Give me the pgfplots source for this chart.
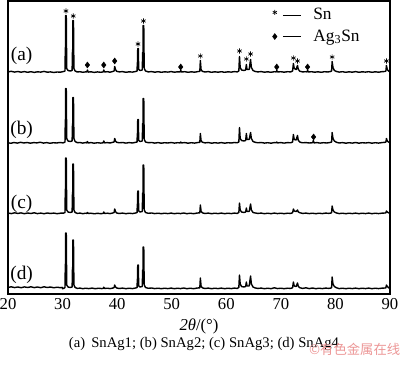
\documentclass[border=0pt]{standalone}
\usepackage{pgfplots}
\pgfplotsset{compat=1.18}
\usepackage{pgfplotstable}
\usepackage{fontspec}
\setmainfont{Liberation Serif}
\newfontfamily\cjk{Noto Sans CJK SC}
\definecolor{wm}{RGB}{236,150,150}

\pgfplotstableread{
x y
20.0 0.6
20.6 1.2
21.2 0.4
21.8 1.0
22.4 0.3
23.0 0.9
23.6 0.2
24.2 0.8
24.8 0.1
25.4 0.7
26.0 0.4
26.6 1.1
27.2 0.3
27.8 0.6
28.4 0.0
29.0 0.5
29.6 0.3
30.2 1.0
30.45 1.5
30.50 25
30.55 25
30.57 57
30.68 57
30.76 4
31.0 2.0
31.4 1.5
31.75 2.0
31.82 23
31.87 23
31.89 52
32.00 52
32.08 4
32.3 1.5
32.7 0.5
33.2 0.8
33.7 0.2
34.2 0.6
34.45 0.5
34.55 2.5
34.7 0.4
35.2 0.7
35.8 0.1
36.4 0.6
37.0 0.2
37.45 0.6
37.55 2.5
37.7 0.5
38.2 0.8
38.7 0.3
39.2 1.0
39.45 1.5
39.55 6
39.7 3
39.9 1.2
40.4 0.6
41.0 0.9
41.6 0.2
42.2 0.7
42.8 0.4
43.4 1.0
43.65 1.5
43.70 10
43.75 10
43.77 24
43.88 24
43.95 3
44.2 2
44.6 2.5
44.68 20
44.73 20
44.75 47
44.88 47
44.96 4
45.2 1.5
45.7 0.6
46.3 0.9
46.9 0.3
47.5 0.8
48.1 0.2
48.7 0.7
49.3 0.4
49.9 0.9
50.5 0.3
51.1 0.7
51.55 0.5
51.65 2
51.8 0.5
52.4 0.8
53.0 0.2
53.6 0.7
54.2 0.3
54.8 0.9
55.15 1.2
55.25 12
55.38 3
55.6 1.2
56.1 0.5
56.7 0.9
57.3 0.2
57.9 0.7
58.5 0.3
59.1 0.8
59.7 0.2
60.3 0.7
60.9 0.4
61.5 0.9
62.0 0.6
62.3 1.5
62.42 16
62.55 5
62.8 2.5
63.2 2
63.55 2.5
63.68 8
63.8 3
64.2 3
64.45 13
64.6 5
64.9 2
65.3 1
65.8 0.6
66.4 0.9
67.0 0.3
67.6 0.7
68.2 0.2
68.8 0.8
69.15 0.6
69.25 2
69.4 0.5
70.0 0.8
70.6 0.3
71.2 0.8
71.8 0.6
72.15 1.5
72.3 9
72.45 4
72.8 3
73.05 7
73.2 3
73.5 1.2
74.0 0.6
74.6 0.8
74.8 0.6
74.9 2
75.05 0.5
75.6 0.8
76.2 0.3
76.8 0.7
77.4 0.2
78.0 0.8
78.6 0.5
79.1 1.0
79.3 1.5
79.4 11
79.55 5
79.8 2
80.2 1.0
80.7 0.4
81.3 0.8
81.9 0.2
82.5 0.7
83.1 0.3
83.7 0.9
84.3 0.2
84.9 0.7
85.5 0.4
86.1 0.8
86.7 0.2
87.3 0.7
87.9 0.3
88.5 0.8
89.05 1.0
89.25 1.5
89.35 7
89.5 3
89.8 1.2
90.0 0.8
}\traceA

\pgfplotstableread{
x y
20.0 0.8
20.5 0.2
21.1 1.0
21.7 0.4
22.3 1.2
22.9 0.5
23.5 1.0
24.1 0.3
24.7 0.9
25.3 0.6
25.9 1.3
26.5 0.4
27.1 0.9
27.7 0.2
28.3 0.8
28.9 0.5
29.5 1.0
30.1 0.6
30.45 1.5
30.50 24
30.55 24
30.57 55
30.68 55
30.76 5
31.0 2.5
31.4 2.0
31.75 2.5
31.82 20
31.87 20
31.89 46
32.00 46
32.08 5
32.3 2
32.7 0.8
33.2 1.0
33.7 0.4
34.2 0.9
34.45 0.6
34.55 2
34.7 0.5
35.2 0.9
35.8 0.3
36.4 0.8
37.0 0.4
37.45 0.7
37.55 2.5
37.7 0.6
38.2 0.9
38.7 0.5
39.2 1.2
39.45 1.5
39.55 5
39.7 2.5
39.9 1.2
40.4 0.7
41.0 1.0
41.6 0.4
42.2 0.9
42.8 0.5
43.4 1.2
43.65 1.5
43.70 10
43.75 10
43.77 24
43.88 24
43.95 3
44.2 2
44.6 2.5
44.68 20
44.73 20
44.75 45
44.88 45
44.96 4
45.2 1.5
45.7 0.8
46.3 1.0
46.9 0.4
47.5 0.9
48.1 0.3
48.7 0.8
49.3 0.5
49.9 1.0
50.5 0.4
51.1 0.8
51.55 0.6
51.65 1.5
51.8 0.6
52.4 0.9
53.0 0.3
53.6 0.8
54.2 0.4
54.8 1.0
55.15 1.2
55.25 10
55.38 3
55.6 1.3
56.1 0.6
56.7 1.0
57.3 0.3
57.9 0.8
58.5 0.4
59.1 0.9
59.7 0.3
60.3 0.8
60.9 0.5
61.5 1.0
62.0 0.7
62.3 1.5
62.42 16
62.55 5
62.8 3
63.2 2.5
63.55 3
63.68 10
63.8 4
64.2 4
64.45 11
64.6 5
64.9 2
65.3 1.2
65.8 0.7
66.4 1.0
67.0 0.4
67.6 0.8
68.2 0.3
68.8 0.9
69.15 0.7
69.25 1.5
69.4 0.6
70.0 0.9
70.6 0.4
71.2 0.9
71.8 0.7
72.15 1.5
72.3 9
72.45 4
72.8 3.5
73.05 8
73.2 3
73.5 1.3
74.0 0.7
74.6 0.9
75.2 0.5
75.85 0.8
75.95 3
76.1 0.6
76.6 0.9
77.2 0.4
77.8 0.8
78.4 0.5
79.0 1.0
79.3 1.5
79.4 11
79.55 5
79.8 2.5
80.2 1.2
80.7 0.5
81.3 0.9
81.9 0.3
82.5 0.8
83.1 0.4
83.7 1.0
84.3 0.3
84.9 0.8
85.5 0.5
86.1 0.9
86.7 0.3
87.3 0.8
87.9 0.4
88.5 0.9
89.1 1.2
89.25 1.5
89.35 5
89.5 2.5
89.8 1.2
90.0 0.8
}\traceB

\pgfplotstableread{
x y
20.0 1.0
20.6 0.4
21.2 1.2
21.8 0.6
22.4 1.1
23.0 0.3
23.6 1.0
24.2 0.5
24.8 1.2
25.4 0.4
26.0 0.9
26.6 0.3
27.2 1.0
27.8 0.5
28.4 0.9
29.0 0.3
29.6 0.8
30.2 0.9
30.45 1.5
30.50 25
30.55 25
30.57 56
30.68 56
30.76 4
31.0 2.0
31.4 1.5
31.75 2.0
31.82 22
31.87 22
31.89 50
32.00 50
32.08 4
32.3 1.5
32.7 0.6
33.2 0.9
33.7 0.3
34.2 0.8
34.45 0.6
34.55 1.5
34.7 0.5
35.2 0.8
35.8 0.2
36.4 0.7
37.0 0.3
37.45 0.6
37.55 2
37.7 0.5
38.2 0.8
38.7 0.4
39.2 1.0
39.45 1.5
39.55 5
39.7 2.5
39.9 1.0
40.4 0.5
41.0 0.9
41.6 0.3
42.2 0.8
42.8 0.4
43.4 1.0
43.65 1.5
43.70 10
43.75 10
43.77 23
43.88 23
43.95 3
44.2 2
44.6 2.5
44.68 21
44.73 21
44.75 49
44.88 49
44.96 4
45.2 1.5
45.7 0.7
46.3 1.0
46.9 0.4
47.5 0.8
48.1 0.3
48.7 0.8
49.3 0.4
49.9 0.9
50.5 0.3
51.1 0.8
51.6 0.4
52.2 1.0
52.8 0.3
53.4 0.8
54.0 0.3
54.6 0.9
55.15 1.2
55.25 9
55.38 3
55.6 1.2
56.1 0.5
56.7 0.9
57.3 0.3
57.9 0.8
58.5 0.4
59.1 0.9
59.7 0.3
60.3 0.8
60.9 0.4
61.5 0.9
62.0 0.6
62.3 1.5
62.42 11
62.55 4
62.8 2
63.2 1.5
63.55 2
63.68 6
63.8 2.5
64.2 2.5
64.45 10
64.6 4
64.9 1.5
65.3 1
65.8 0.6
66.4 0.9
67.0 0.3
67.6 0.8
68.2 0.3
68.8 0.9
69.4 0.4
70.0 0.8
70.6 0.3
71.2 0.8
71.8 0.6
72.15 1.2
72.3 5
72.45 3
72.8 2.5
73.05 4
73.2 2
73.5 1.2
74.0 0.6
74.6 0.9
75.2 0.4
75.8 0.8
76.4 0.3
77.0 0.8
77.6 0.4
78.2 0.9
78.8 0.6
79.2 1.0
79.3 1.5
79.4 8
79.55 4
79.8 2
80.2 1.0
80.7 0.4
81.3 0.8
81.9 0.3
82.5 0.8
83.1 0.4
83.7 0.9
84.3 0.3
84.9 0.8
85.5 0.4
86.1 0.9
86.7 0.3
87.3 0.8
87.9 0.4
88.5 0.8
89.1 1.0
89.25 1.2
89.35 3
89.5 2
89.8 1.0
90.0 0.8
}\traceC

\pgfplotstableread{
x y
20.0 1.5
20.6 2.2
21.2 1.4
21.8 2.0
22.4 1.3
23.0 2.1
23.6 1.5
24.2 2.2
24.8 1.4
25.4 2.0
26.0 1.3
26.6 2.2
27.2 1.5
27.8 2.0
28.4 1.2
29.0 1.8
29.6 1.3
29.95 1.6
30.0 0.3
30.2 0.6
30.45 1.5
30.50 25
30.55 25
30.57 56
30.68 56
30.76 4
31.0 2.0
31.4 1.5
31.75 2.0
31.82 22
31.87 22
31.89 49
32.00 49
32.08 4
32.3 1.5
32.7 0.6
33.2 0.9
33.7 0.3
34.2 0.8
34.8 0.4
35.4 0.9
36.0 0.3
36.6 0.8
37.2 0.4
37.45 0.6
37.55 1.8
37.7 0.5
38.2 0.8
38.7 0.4
39.2 0.9
39.45 1.5
39.55 4
39.7 2
39.9 1.0
40.4 0.5
41.0 0.9
41.6 0.3
42.2 0.8
42.8 0.4
43.4 1.0
43.65 1.5
43.70 10
43.75 10
43.77 24
43.88 24
43.95 3
44.2 2
44.6 2.5
44.68 19
44.73 19
44.75 42
44.88 42
44.96 4
45.2 1.5
45.7 0.7
46.3 1.0
46.9 0.4
47.5 0.8
48.1 0.3
48.7 0.8
49.3 0.4
49.9 0.9
50.5 0.3
51.1 0.8
51.6 0.4
52.2 1.0
52.8 0.3
53.4 0.8
54.0 0.3
54.6 0.9
55.15 1.2
55.25 11
55.38 3
55.6 1.2
56.1 0.5
56.7 0.9
57.3 0.3
57.9 0.8
58.5 0.4
59.1 0.9
59.7 0.3
60.3 0.8
60.9 0.4
61.5 0.9
62.0 0.6
62.3 1.5
62.42 14
62.55 5
62.8 2.5
63.2 2
63.55 2.5
63.68 7
63.8 3
64.2 3
64.45 13
64.6 5
64.9 2
65.3 1
65.8 0.6
66.4 0.9
67.0 0.3
67.6 0.8
68.2 0.3
68.8 1.2
69.4 0.4
70.0 0.8
70.6 0.3
71.2 0.8
71.8 0.6
72.15 1.2
72.3 7
72.45 3
72.8 2.5
73.05 6
73.2 2.5
73.5 1.2
74.0 0.6
74.6 1.2
75.2 0.4
75.8 1.0
76.4 0.3
77.0 0.8
77.6 0.4
78.2 0.9
78.8 0.6
79.2 1.0
79.3 1.5
79.4 12
79.55 5
79.8 2.5
80.2 1.2
80.7 0.4
81.3 0.8
81.9 0.3
82.5 0.8
83.1 0.4
83.7 0.9
84.3 0.3
84.9 0.8
85.5 0.4
86.1 0.9
86.7 0.3
87.3 0.8
87.9 0.4
88.5 0.8
89.1 1.0
89.25 1.2
89.35 4
89.5 2.5
89.8 1.0
90.0 0.8
}\traceD

\begin{document}
\begin{tikzpicture}
\begin{axis}[
  at={(0,0)}, anchor=south west,
  scale only axis, width=286.5pt, height=219.75pt,
  xmin=20, xmax=90, ymin=0, ymax=293,
  xtick={20,30,...,90}, ytick=\empty,
  major tick length=0pt,
  axis line style={line width=1.1pt},
  tick label style={font=\fontsize{12.5}{14}\selectfont},
  /pgf/number format/assume math mode=true,
  xlabel={{\itshape 2θ}/(°)},
  xlabel style={font=\fontsize{12.5}{14}\selectfont},
  legend style={at={(rel axis cs:0.692,0.985)}, anchor=north west, draw=none, fill=none,
    font=\fontsize{13}{15}\selectfont, inner sep=0pt, row sep=2pt, column sep=7pt},
  legend cell align=left,
]
\addlegendimage{legend image code/.code={
  \draw[black, mark=asterisk, mark size=1.8pt, mark options={line width=0.5pt}] plot coordinates {(0pt,2pt)};
  \draw[black, line width=0.8pt] (6pt,0pt) -- (19.5pt,0pt);}}
\addlegendentry{Sn}
\addlegendimage{legend image code/.code={
  \draw[black, mark=diamond*, mark size=2.2pt] plot coordinates {(0pt,0pt)};
  \draw[black, line width=0.8pt] (6pt,0pt) -- (19.5pt,0pt);}}
\addlegendentry{Ag\textsubscript{3}Sn}

\addplot[black, line width=1.05pt, line join=round, forget plot] table[x=x, y expr=\thisrow{y}+221.5] {\traceA};
\addplot[black, line width=1.05pt, line join=round, forget plot] table[x=x, y expr=\thisrow{y}+150.5] {\traceB};
\addplot[black, line width=1.05pt, line join=round, forget plot] table[x=x, y expr=\thisrow{y}+80] {\traceC};
\addplot[black, line width=1.05pt, line join=round, forget plot] table[x=x, y expr=\thisrow{y}+5] {\traceD};

\addplot[only marks, black, mark=asterisk, mark size=1.9pt, mark options={line width=0.5pt}, forget plot] coordinates {
(30.62,283) (31.95,278) (43.82,250) (44.82,273) (55.25,238) (62.42,243) (63.68,235)
(64.45,240) (72.3,236) (73.05,233) (79.4,237) (89.35,233)};
\addplot[only marks, black, mark=diamond*, mark size=2.2pt, forget plot] coordinates {
(34.55,229) (37.55,229) (39.55,233) (51.65,227) (69.25,227) (74.9,227) (76.0,157)};

\node[font=\fontsize{14.5}{16}\selectfont] at (axis cs:22.5,238) {(a)};
\node[font=\fontsize{14.5}{16}\selectfont] at (axis cs:22.5,164) {(b)};
\node[font=\fontsize{14.5}{16}\selectfont] at (axis cs:22.5,90) {(c)};
\node[font=\fontsize{14.5}{16}\selectfont] at (axis cs:22.5,19) {(d)};
\end{axis}
\node[font=\fontsize{11}{13}\selectfont] at (147pt,-37.5pt) {(a)\, SnAg1; (b) SnAg2; (c) SnAg3; (d) SnAg4};
\node[font=\cjk\fontsize{10}{12}\selectfont, text=wm] at (260pt,-41.5pt) {©有色金属在线};
\pgfresetboundingbox
\path[use as bounding box] (-6pt,-54.75pt) rectangle (294pt,220.5pt);
\end{tikzpicture}
\end{document}
